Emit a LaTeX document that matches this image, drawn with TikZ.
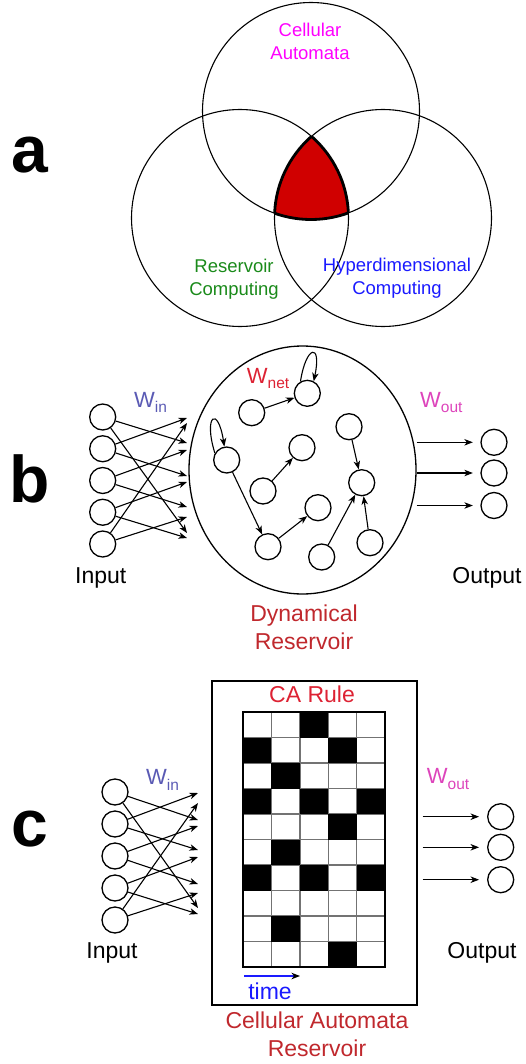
\documentclass[tikz,border=0pt]{standalone}
\usepackage{fontspec}
\setmainfont{Liberation Sans}
\usetikzlibrary{arrows.meta,shapes.geometric}
\definecolor{winc}{HTML}{5A5AB4}
\definecolor{wnetc}{HTML}{DD2233}
\definecolor{resc}{HTML}{C0282D}
\definecolor{woutc}{HTML}{DD44BB}
\definecolor{cac}{HTML}{FF00FF}
\definecolor{rcc}{HTML}{1A8A1A}
\definecolor{hdc}{HTML}{1A1AFF}
\definecolor{venred}{HTML}{D00000}
\begin{document}
\begin{tikzpicture}[x=1pt,y=-1pt,
  nd/.style={circle,draw,line width=1.3pt,minimum size=26pt,inner sep=0pt},
  arr/.style={-{Stealth[length=8.5pt,width=6.5pt,inset=2.5pt]},line width=1.1pt},
  big/.style={font=\fontsize{23}{28.3}\selectfont, align=center, inner sep=0pt},
  small/.style={font=\fontsize{18.5}{22.8}\selectfont, align=center, inner sep=0pt},
  panel/.style={font=\fontsize{66}{66}\selectfont\bfseries, inner sep=0pt},
  ven/.style={line width=1.1pt},
  wl/.style={anchor=base west, inner sep=0pt},
]
\useasboundingbox (0,0) rectangle (526,1064);
\newcommand{\wlab}[1]{{\fontsize{22}{22}\selectfont W}\raisebox{-5.5pt}{\fontsize{15.5}{15.5}\selectfont #1}}

% ---------------- panel a ----------------
\node[panel] (la) at (30,155) {a};
\coordinate (ct) at (311,111);
\coordinate (cl) at (240,218);
\coordinate (cr) at (383,218);
\begin{scope}
  \clip (ct) circle (108.5); \clip (cl) circle (108.5);
  \fill[venred] (cr) circle (108.5);
\end{scope}
\begin{scope}
  \clip (ct) circle (108.5); \clip (cl) circle (108.5);
  \draw[line width=2.8pt] (cr) circle (108.5);
\end{scope}
\begin{scope}
  \clip (ct) circle (108.5); \clip (cr) circle (108.5);
  \draw[line width=2.8pt] (cl) circle (108.5);
\end{scope}
\begin{scope}
  \clip (cl) circle (108.5); \clip (cr) circle (108.5);
  \draw[line width=2.8pt] (ct) circle (108.5);
\end{scope}
\draw[ven] (ct) circle (108.5);
\draw[ven] (cl) circle (108.5);
\draw[ven] (cr) circle (108.5);
\node[small, text=cac] (tca) at (310,41.5) {Cellular\\Automata};
\node[small, text=rcc] (trc) at (234,279) {Reservoir\\Computing};
\node[small, text=hdc] (thd) at (397,278) {Hyperdimensional\\Computing};

% ---------------- panel b ----------------
\node[panel] (lb) at (30,479) {b};
\foreach \i/\yy in {1/417,2/448.75,3/480.5,4/512.25,5/544}
  \node[nd] (bi\i) at (102.7,\yy) {};
\foreach \nm/\yy in {b1a/443,b1b/533,b2a/418,b2b/476,b3a/450,b3b/507,b4a/482,b4b/538,b5a/423,b5b/517}
  \coordinate (\nm) at (187,\yy);
\foreach \i/\t in {1/b1a,1/b1b,2/b2a,2/b2b,3/b3a,3/b3b,4/b4a,4/b4b,5/b5a,5/b5b}
  \draw[arr] (bi\i) -- (\t);
\node[draw, ellipse, line width=1.3pt, minimum width=227pt, minimum height=248pt, inner sep=0pt] (res) at (302.5,470) {};
\node[nd] (rA) at (251.7,412.7) {};
\node[nd] (rB) at (307.3,393.3) {};
\node[nd] (rC) at (226.7,460) {};
\node[nd] (rD) at (302,447.7) {};
\node[nd] (rE) at (263,491) {};
\node[nd] (rF) at (349,426.7) {};
\node[nd] (rG) at (361.7,482.7) {};
\node[nd] (rH) at (318,507.7) {};
\node[nd] (rI) at (268,546.7) {};
\node[nd] (rJ) at (321.7,557) {};
\node[nd] (rK) at (370,542.7) {};
\draw[arr] (rA) -- (rB);
\draw[arr] (rC) -- (rI);
\draw[arr] (rE) -- (rD);
\draw[arr] (rI) -- (rH);
\draw[arr] (rF) -- (rG);
\draw[arr] (rJ) -- (rG);
\draw[arr] (rK) -- (rG);
\draw[arr] (rB.120) .. controls (306,345) and (322,342) .. (rB.62);
\draw[arr] (rC.150) .. controls (203,415) and (218,405) .. (rC.100);
\foreach \i/\yy in {1/442.3,2/473,3/505.5}{
  \node[nd] (bo\i) at (494,\yy) {};
  \coordinate (bs\i) at (416.5,\yy);
  \draw[arr, shorten >=7.5pt] (bs\i) -- (bo\i);
}
\node[wl, text=winc] (bwin) at (134,407) {\wlab{in}};
\node[wl, text=wnetc] (bwnet) at (246.7,383.3) {\wlab{net}};
\node[wl, text=woutc] (bwout) at (420,407) {\wlab{out}};
\node[big, anchor=base] (binp) at (100.8,583.3) {Input};
\node[big, anchor=base] (bout) at (487,583.3) {Output};
\node[big, text=resc] (bres) at (304,627.5) {Dynamical\\Reservoir};

% ---------------- panel c ----------------
\node[panel] (lc) at (30,829) {c};
\foreach \i/\yy in {1/792,2/824,3/856,4/888,5/920}
  \node[nd] (ci\i) at (115,\yy) {};
\foreach \nm/\yy in {c1a/820,c1b/908,c2a/793,c2b/850,c3a/826,c3b/884,c4a/857,c4b/914,c5a/803,c5b/893}
  \coordinate (\nm) at (198,\yy);
\foreach \i/\t in {1/c1a,1/c1b,2/c2a,2/c2b,3/c3a,3/c3b,4/c4a,4/c4b,5/c5a,5/c5b}
  \draw[arr] (ci\i) -- (\t);
\draw[line width=1.4pt] (212,681) rectangle (417,1005);
% grid
\def\gx{243}\def\gy{712}\def\cw{28.4}\def\rh{25.5}
\foreach \k in {1,...,4}
  \draw[black!55, line width=1.4pt] (\gx+\k*\cw,\gy) -- (\gx+\k*\cw,\gy+10*\rh);
\foreach \k in {1,...,9}
  \draw[black!55, line width=1.4pt] (\gx,\gy+\k*\rh) -- (\gx+5*\cw,\gy+\k*\rh);
\foreach \r/\c in {1/3,2/1,2/4,3/2,4/1,4/3,4/5,5/4,6/2,7/1,7/3,7/5,9/2,10/4}
  \fill[black] (\gx+\c*\cw-\cw,\gy+\r*\rh-\rh) rectangle (\gx+\c*\cw,\gy+\r*\rh);
\draw[line width=1.4pt] (\gx,\gy) rectangle (\gx+5*\cw,\gy+10*\rh);
\node[big, anchor=base, text=wnetc] (crule) at (312,702.3) {CA Rule};
\coordinate (ts) at (244,976);
\coordinate (te) at (300,976);
\draw[hdc, line width=1.2pt, -{Stealth[black,length=8.5pt,width=6.5pt,inset=2.5pt]}] (ts) -- (te);
\node[big, anchor=base, text=hdc] (ctime) at (270,999.3) {time};
\node[big, text=resc] (cres) at (317,1034) {Cellular Automata\\Reservoir};
\foreach \i/\yy in {1/816.7,2/847.3,3/879.7}{
  \node[nd] (co\i) at (500.7,\yy) {};
  \coordinate (cs\i) at (422.5,\yy);
  \draw[arr, shorten >=8pt] (cs\i) -- (co\i);
}
\node[wl, text=winc] (cwin) at (146,784.5) {\wlab{in}};
\node[wl, text=woutc] (cwout) at (426.7,783.5) {\wlab{out}};
\node[big, anchor=base] (cinp) at (112,958.3) {Input};
\node[big, anchor=base] (cout) at (482,958.3) {Output};
\end{tikzpicture}
\end{document}
